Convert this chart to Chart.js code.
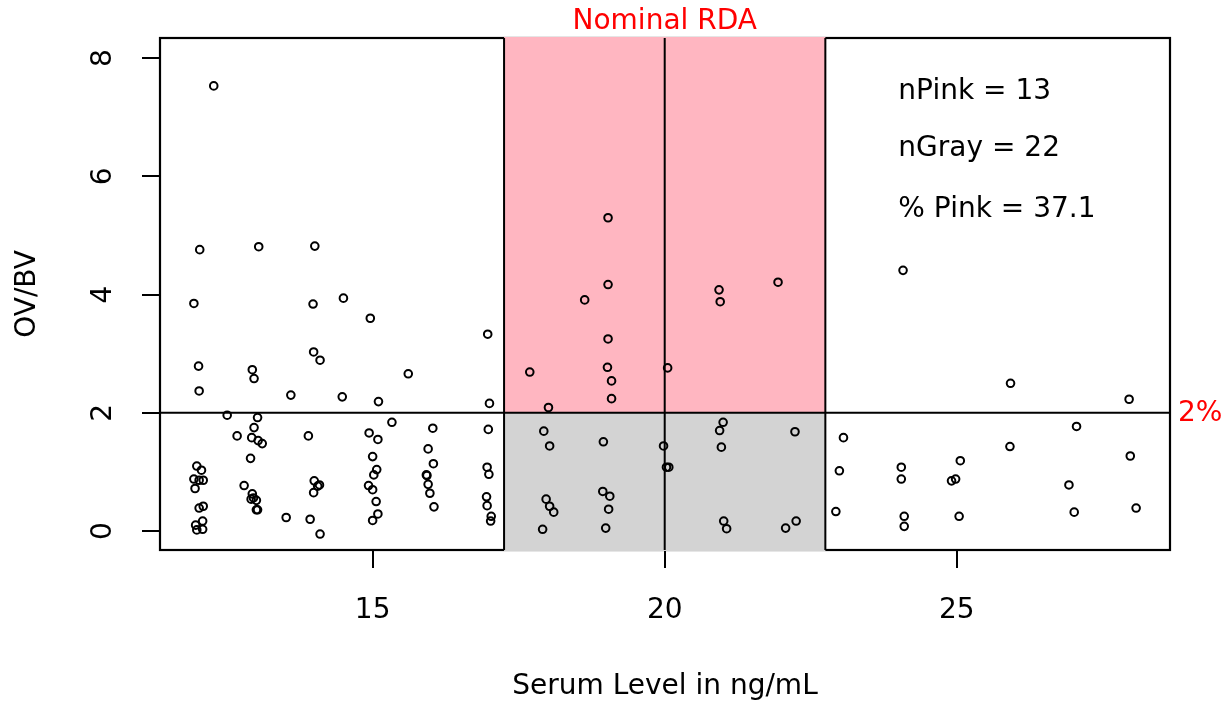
<!DOCTYPE html>
<html><head><meta charset="utf-8">
<script src="https://cdn.jsdelivr.net/npm/chart.js@4/dist/chart.umd.min.js"></script>
<style>html,body{margin:0;padding:0;background:#fff;}canvas{display:block;}</style>
</head><body>
<canvas id="c" width="1232" height="705"></canvas>
<script>
// ---- data ----
const lowSerum = [12.28,12.04,13.05,14.01,14.50,11.94,13.98,14.96,16.97,12.02,12.94,12.97,13.99,14.10,15.61,12.03,13.60,14.48,15.10,17.00,
  12.51,13.03,12.97,12.68,12.93,13.04,13.11,13.90,14.94,15.09,15.33,16.03,16.98,12.91,15.00,15.95,16.04,11.99,12.07,15.07,
  15.02,15.92,15.93,16.96,16.99,11.94,12.03,12.10,11.96,12.80,14.00,14.09,14.06,13.99,14.93,15.00,15.95,15.98,12.94,12.92,
  12.96,13.01,13.01,13.03,15.06,15.09,15.00,16.95,16.96,16.05,12.03,12.10,13.52,13.93,14.10,17.03,17.02,11.97,12.09,11.99,12.09];
const lowRatio = [7.53,4.76,4.81,4.82,3.94,3.85,3.84,3.60,3.33,2.79,2.73,2.58,3.03,2.89,2.66,2.37,2.30,2.27,2.19,2.16,
  1.96,1.92,1.75,1.61,1.58,1.53,1.48,1.61,1.66,1.55,1.84,1.74,1.72,1.23,1.26,1.39,1.14,1.10,1.03,1.04,
  0.95,0.95,0.94,1.08,0.96,0.88,0.86,0.86,0.72,0.77,0.85,0.78,0.76,0.65,0.77,0.70,0.79,0.64,0.63,0.54,
  0.56,0.52,0.36,0.36,0.50,0.29,0.18,0.58,0.43,0.41,0.39,0.42,0.23,0.20,-0.05,0.25,0.17,0.10,0.17,0.02,0.03];
const midSerum = [19.03,19.03,18.63,20.93,20.95,21.94,19.03,17.69,19.02,20.05,19.09,19.09,18.01,
  17.93,18.03,18.95,19.98,20.03,20.07,21.00,20.94,20.97,22.23,17.97,18.03,18.10,17.91,18.94,19.06,19.04,18.99,21.01,21.06,22.07,22.25];
const midRatio = [5.30,4.17,3.91,4.08,3.88,4.21,3.25,2.69,2.77,2.76,2.54,2.24,2.09,
  1.69,1.44,1.51,1.44,1.08,1.08,1.84,1.70,1.42,1.68,0.54,0.42,0.32,0.03,0.67,0.59,0.37,0.05,0.17,0.04,0.05,0.17];
const highSerum = [24.08,25.92,27.95,27.05,23.06,25.91,27.97,22.99,24.05,24.05,25.06,24.91,24.98,26.92,22.93,24.10,24.10,25.04,27.01,28.07];
const highRatio = [4.41,2.50,2.23,1.77,1.58,1.43,1.27,1.02,1.08,0.88,1.19,0.85,0.88,0.78,0.33,0.25,0.08,0.25,0.32,0.39];
const xTicks = [15, 20, 25];
const yTicks = [0, 2, 4, 6, 8];
const rdaBand = [17.25, 22.75];
const rdaCenter = 20;
const cutoff = 2;
const statLabels = ["nPink = 13", "nGray = 22", "% Pink = 37.1"];

// ---- chart ----
const FONT = "'DejaVu Sans', sans-serif";
const FS = 28;
const toPts = (xs, ys) => xs.map((x, i) => ({x: x, y: ys[i]}));
const ds = (xs, ys) => ({data: toPts(xs, ys), showLine: false});

const decor = {
  id: 'decor',
  beforeDatasetsDraw(chart) {
    const {ctx, chartArea: a, scales: {x, y}} = chart;
    const xl = x.getPixelForValue(rdaBand[0]), xr = x.getPixelForValue(rdaBand[1]);
    const xc = x.getPixelForValue(rdaCenter), yc = y.getPixelForValue(cutoff);
    ctx.save();
    ctx.strokeStyle = '#000'; ctx.lineWidth = 2.2;
    ctx.strokeRect(a.left, a.top, a.right - a.left, a.bottom - a.top);
    ctx.fillStyle = '#FFB6C1'; ctx.fillRect(xl, a.top - 1, xr - xl, yc - a.top + 1);
    ctx.fillStyle = '#D3D3D3'; ctx.fillRect(xl, yc, xr - xl, a.bottom + 1 - yc);
    ctx.lineWidth = 2;
    ctx.beginPath();
    ctx.moveTo(xl, a.top); ctx.lineTo(xl, a.bottom);
    ctx.moveTo(xr, a.top); ctx.lineTo(xr, a.bottom);
    ctx.moveTo(xc, a.top); ctx.lineTo(xc, a.bottom);
    ctx.moveTo(a.left, yc); ctx.lineTo(a.right, yc);
    ctx.stroke();
    ctx.restore();
  },
  afterDraw(chart) {
    const {ctx, chartArea: a, scales: {x, y}} = chart;
    ctx.save();
    ctx.font = FS + 'px ' + FONT;
    ctx.fillStyle = '#FF0000';
    ctx.textAlign = 'center'; ctx.textBaseline = 'alphabetic';
    ctx.fillText('Nominal RDA', x.getPixelForValue(rdaCenter), 29);
    ctx.textAlign = 'left'; ctx.textBaseline = 'middle';
    ctx.fillText('2%', a.right + 8, y.getPixelForValue(cutoff) + 1);
    ctx.fillStyle = '#000'; ctx.textBaseline = 'alphabetic';
    const sy = [7.31, 6.34, 5.31];
    statLabels.forEach((t, i) => ctx.fillText(t, x.getPixelForValue(24), y.getPixelForValue(sy[i])));
    ctx.restore();
  }
};

Chart.defaults.font.family = FONT;
Chart.defaults.font.size = FS;
Chart.defaults.color = '#000';

new Chart(document.getElementById('c'), {
  type: 'scatter',
  data: {datasets: [ds(lowSerum, lowRatio), ds(midSerum, midRatio), ds(highSerum, highRatio)]},
  options: {
    responsive: false, animation: false, devicePixelRatio: 1, events: [],
    layout: {padding: {top: 38, right: 62, left: 0, bottom: 0}},
    elements: {point: {radius: 3.8, borderWidth: 2, borderColor: '#000', backgroundColor: 'rgba(0,0,0,0)', pointStyle: 'circle'}},
    plugins: {legend: {display: false}, tooltip: {enabled: false}},
    scales: {
      x: {
        type: 'linear', min: 11.36, max: 28.65,
        afterBuildTicks: s => { s.ticks = xTicks.map(v => ({value: v})); },
        afterFit: s => { s.height = 155; s.paddingLeft = 0; s.paddingRight = 0; },
        grid: {drawOnChartArea: false, drawTicks: true, tickLength: 18, color: '#000', lineWidth: 2},
        border: {display: false},
        ticks: {padding: 26, color: '#000', font: {size: FS}, maxRotation: 0, minRotation: 0},
        title: {display: true, text: 'Serum Level in ng/mL', color: '#000', font: {size: FS}, padding: {top: 0, bottom: 1}}
      },
      y: {
        type: 'linear', min: -0.32, max: 8.34,
        afterBuildTicks: s => { s.ticks = yTicks.map(v => ({value: v})); },
        afterFit: s => { s.width = 160; s.paddingTop = 0; s.paddingBottom = 0; },
        grid: {drawOnChartArea: false, drawTicks: true, tickLength: 18, color: '#000', lineWidth: 2},
        border: {display: false},
        ticks: {padding: 29, color: '#000', font: {size: FS}, minRotation: 90, maxRotation: 90, crossAlign: 'center'},
        title: {display: true, text: 'OV/BV', color: '#000', font: {size: FS}, padding: {top: 11, bottom: 0}}
      }
    }
  },
  plugins: [decor]
});
</script>
</body></html>
